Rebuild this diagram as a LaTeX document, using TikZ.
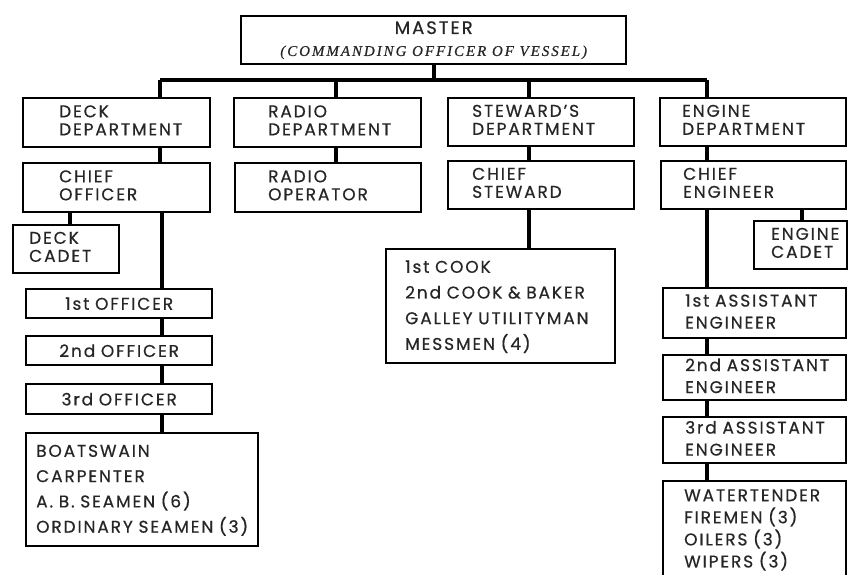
\documentclass[tikz,border=0pt]{standalone}
\usepackage{fontspec}
\setmainfont[LetterSpace=11,FakeBold=0.5]{Poppins}
\newfontfamily\serifit[LetterSpace=13,FakeBold=0.5]{Liberation Serif}
\newcommand{\tlines}[2]{\hspace*{#1}\begin{tabular}{@{}l@{}}#2\end{tabular}}
\begin{document}
\begin{tikzpicture}[x=1pt,y=-1pt,
  box/.style={draw=black, text=black!85, line width=2.4pt, rectangle, anchor=north west, inner xsep=0pt, inner ysep=0pt,
    align=left, font=\fontsize{17}{18}\selectfont},
  cbox/.style={box, align=center},
  conn/.style={line width=4pt}]
\fill[white] (0,0) rectangle (848,575);
\useasboundingbox (0,0) rectangle (848,575);

% master
\node[cbox, minimum width=385pt, minimum height=48pt, text width=385pt] (master) at (240,15)
  {{\fontsize{18}{18}\selectfont MASTER}\\[4pt]{\serifit\itshape\fontsize{15}{15}\selectfont (COMMANDING OFFICER OF VESSEL)}};

% departments
\node[box, minimum width=187pt, minimum height=49pt, text width=187pt] (deck) at (22,97) {\tlines{36pt}{DECK\\DEPARTMENT}};
\node[box, minimum width=187pt, minimum height=49pt, text width=187pt] (radio) at (233,97) {\tlines{34pt}{RADIO\\DEPARTMENT}};
\node[box, minimum width=186pt, minimum height=48pt, text width=186pt] (stewd) at (447,97) {\tlines{24pt}{STEWARD'S\\DEPARTMENT}};
\node[box, minimum width=186pt, minimum height=48pt, text width=186pt] (engd) at (659,97) {\tlines{22pt}{ENGINE\\DEPARTMENT}};

% chiefs
\node[box, minimum width=187pt, minimum height=49pt, text width=187pt] (chiefoff) at (22,162) {\tlines{36pt}{CHIEF\\OFFICER}};
\node[box, minimum width=186pt, minimum height=49pt, text width=186pt] (radioop) at (234,162) {\tlines{33pt}{RADIO\\OPERATOR}};
\node[box, minimum width=186pt, minimum height=48pt, text width=186pt] (chiefst) at (447,160) {\tlines{24pt}{CHIEF\\STEWARD}};
\node[box, minimum width=185pt, minimum height=48pt, text width=185pt] (chiefeng) at (660,160) {\tlines{22pt}{CHIEF\\ENGINEER}};

% cadets
\node[box, minimum width=106pt, minimum height=48pt, text width=106pt] (deckcadet) at (12,224) {\tlines{16pt}{DECK\\CADET}};
\node[box, minimum width=93pt, minimum height=48pt, text width=93pt] (engcadet) at (753,220) {\tlines{17pt}{ENGINE\\CADET}};

% deck officers
\node[cbox, minimum width=186pt, minimum height=29pt, text width=186pt] (off1) at (25,288) {1st OFFICER};
\node[cbox, minimum width=186pt, minimum height=29pt, text width=186pt] (off2) at (25,335) {2nd OFFICER};
\node[cbox, minimum width=186pt, minimum height=30pt, text width=186pt] (off3) at (25,383) {3rd OFFICER};
\node[box, minimum width=232pt, minimum height=113pt, text width=232pt, font=\fontsize{17}{25.3}\selectfont] (crew) at (25,432)
  {\tlines{10pt}{BOATSWAIN\\CARPENTER\\A. B. SEAMEN (6)\\ORDINARY SEAMEN (3)}};

% steward crew
\node[box, minimum width=229pt, minimum height=114pt, text width=229pt, font=\fontsize{17}{25.7}\selectfont] (cooks) at (385,248)
  {\tlines{19pt}{1st COOK\\2nd COOK \& BAKER\\GALLEY UTILITYMAN\\MESSMEN (4)}};

% engineers
\node[box, minimum width=183pt, minimum height=50pt, text width=183pt, font=\fontsize{17}{22}\selectfont] (ae1) at (662,287) {\tlines{22pt}{1st ASSISTANT\\ENGINEER}};
\node[box, minimum width=183pt, minimum height=45pt, text width=183pt, font=\fontsize{17}{22}\selectfont] (ae2) at (662,354) {\tlines{22pt}{2nd ASSISTANT\\ENGINEER}};
\node[box, minimum width=183pt, minimum height=46pt, text width=183pt, font=\fontsize{17}{22}\selectfont] (ae3) at (662,416) {\tlines{22pt}{3rd ASSISTANT\\ENGINEER}};
\node[box, minimum width=183pt, minimum height=98pt, text width=183pt, font=\fontsize{17}{20.7}\selectfont] (fire) at (662,480)
  {\tlines{21pt}{WATERTENDER\\FIREMEN (3)\\OILERS (3)\\WIPERS (3)}};

% connector columns
\coordinate (busL) at (160,80);
\coordinate (busR) at (707,80);
\coordinate (xr) at (336,0);
\coordinate (xs) at (529,0);
\coordinate (xdc) at (70,0);
\coordinate (xo) at (162,0);
\coordinate (xec) at (802,0);

\draw[conn] (busL) -- (busR);
\draw[conn] (master.south) -- (master.south |- busL);
\draw[conn] (busL) -- (busL |- deck.north);
\draw[conn] (xr |- busL) -- (xr |- radio.north);
\draw[conn] (xs |- busL) -- (xs |- stewd.north);
\draw[conn] (busR) -- (busR |- engd.north);

\draw[conn] (busL |- deck.south) -- (busL |- chiefoff.north);
\draw[conn] (xr |- radio.south) -- (xr |- radioop.north);
\draw[conn] (xs |- stewd.south) -- (xs |- chiefst.north);
\draw[conn] (busR |- engd.south) -- (busR |- chiefeng.north);

\draw[conn] (xdc |- chiefoff.south) -- (xdc |- deckcadet.north);
\draw[conn] (xo |- chiefoff.south) -- (xo |- off1.north);
\draw[conn] (xo |- off1.south) -- (xo |- off2.north);
\draw[conn] (xo |- off2.south) -- (xo |- off3.north);
\draw[conn] (xo |- off3.south) -- (xo |- crew.north);

\draw[conn] (xs |- chiefst.south) -- (xs |- cooks.north);

\draw[conn] (xec |- chiefeng.south) -- (xec |- engcadet.north);
\draw[conn] (busR |- chiefeng.south) -- (busR |- ae1.north);
\draw[conn] (busR |- ae1.south) -- (busR |- ae2.north);
\draw[conn] (busR |- ae2.south) -- (busR |- ae3.north);
\draw[conn] (busR |- ae3.south) -- (busR |- fire.north);
\end{tikzpicture}
\end{document}
